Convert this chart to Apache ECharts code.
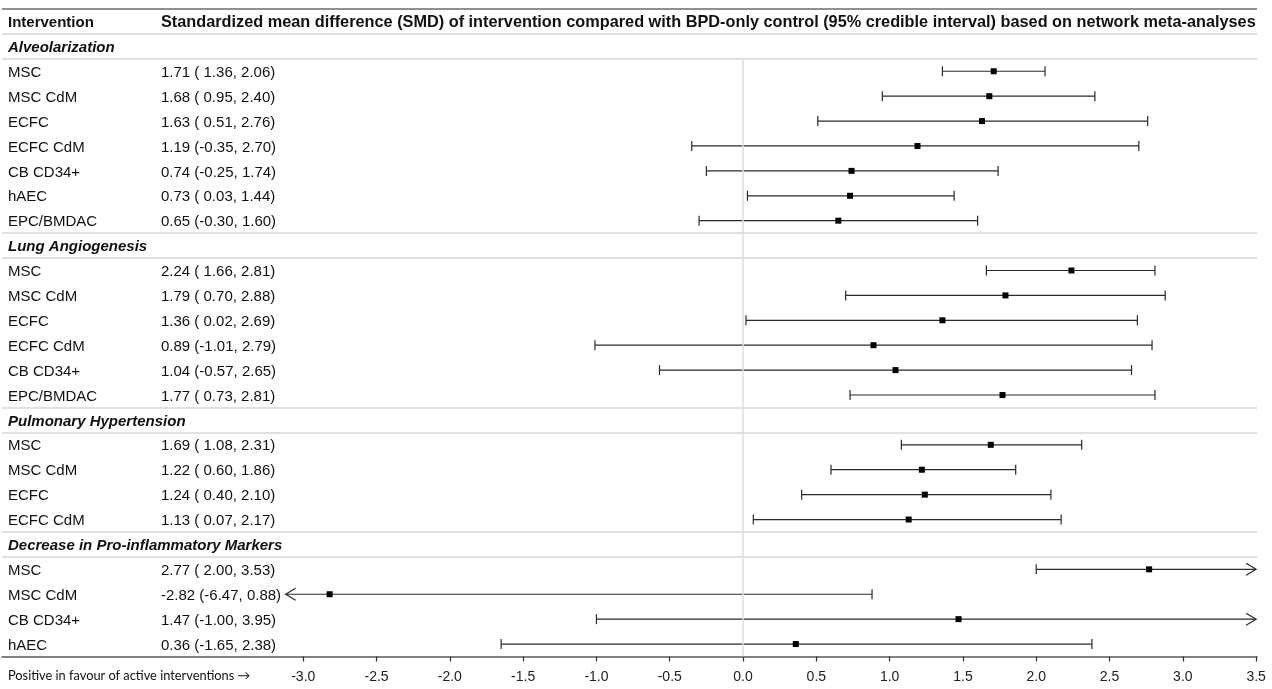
<!DOCTYPE html>
<html><head><meta charset="utf-8">
<script src="https://cdn.jsdelivr.net/npm/echarts@6.0.0/dist/echarts.min.js"></script>
<style>html,body{margin:0;padding:0;background:#fff}#c{width:1272px;height:689px}</style>
</head><body><div id="c"></div>
<script>
// ---------- data ----------
const groupTitles = ['Alveolarization', 'Lung Angiogenesis', 'Pulmonary Hypertension', 'Decrease in Pro-inflammatory Markers'];

const alvNames = ['MSC', 'MSC CdM', 'ECFC', 'ECFC CdM', 'CB CD34+', 'hAEC', 'EPC/BMDAC'];
const alvEst   = [1.71, 1.68, 1.63, 1.19, 0.74, 0.73, 0.65];
const alvLo    = [1.36, 0.95, 0.51, -0.35, -0.25, 0.03, -0.30];
const alvHi    = [2.06, 2.40, 2.76, 2.70, 1.74, 1.44, 1.60];

const lungNames = ['MSC', 'MSC CdM', 'ECFC', 'ECFC CdM', 'CB CD34+', 'EPC/BMDAC'];
const lungEst   = [2.24, 1.79, 1.36, 0.89, 1.04, 1.77];
const lungLo    = [1.66, 0.70, 0.02, -1.01, -0.57, 0.73];
const lungHi    = [2.81, 2.88, 2.69, 2.79, 2.65, 2.81];

const phNames = ['MSC', 'MSC CdM', 'ECFC', 'ECFC CdM'];
const phEst   = [1.69, 1.22, 1.24, 1.13];
const phLo    = [1.08, 0.60, 0.40, 0.07];
const phHi    = [2.31, 1.86, 2.10, 2.17];

const infNames = ['MSC', 'MSC CdM', 'CB CD34+', 'hAEC'];
const infEst   = [2.77, -2.82, 1.47, 0.36];
const infLo    = [2.00, -6.47, -1.00, -1.65];
const infHi    = [3.53, 0.88, 3.95, 2.38];

const xTickLabels = [-3.0, -2.5, -2.0, -1.5, -1.0, -0.5, 0, 0.5, 1.0, 1.5, 2.0, 2.5, 3.0, 3.5];

const headerLeft = 'Intervention';
const headerRight = 'Standardized mean difference (SMD) of intervention compared with BPD-only control (95% credible interval) based on network meta-analyses';
const footerText = 'Positive in favour of active interventions \u2192';

// ---------- build rows ----------
const groups = [
  [alvNames, alvEst, alvLo, alvHi],
  [lungNames, lungEst, lungLo, lungHi],
  [phNames, phEst, phLo, phHi],
  [infNames, infEst, infLo, infHi]
];
const rows = [];
const points = [];
const groupRows = [];
groups.forEach((g, gi) => {
  groupRows.push(rows.length);
  rows.push({type: 'group', name: groupTitles[gi]});
  g[0].forEach((n, i) => {
    const e = g[1][i], l = g[2][i], h = g[3][i];
    const txt = e.toFixed(2) + ' (' + (l >= 0 ? ' ' : '') + l.toFixed(2) + ', ' + h.toFixed(2) + ')';
    points.push([rows.length, e, l, h]);
    rows.push({type: 'item', name: n, text: txt});
  });
});
const lastRow = rows.length - 1;

// display limits of the plotting area
const CLIP_MIN = -3.12, CLIP_MAX = 3.5;
const X_MIN = -5.055, X_MAX = 3.506;

const lightLine = {color: '#d6d6d6', width: 1.5, type: 'solid'};
const hLines = [{yAxis: -1.5, lineStyle: {color: '#6b6b6b', width: 1.5, type: 'solid'}}];
hLines.push({yAxis: -0.5, lineStyle: lightLine});
groupRows.forEach((r, i) => {
  if (i > 0) hLines.push({yAxis: r - 0.5, lineStyle: lightLine});
  hLines.push({yAxis: r + 0.5, lineStyle: lightLine});
});
const zeroLine = [{coord: [0, 0.5], lineStyle: {color: '#dcdcdc', width: 1.5, type: 'solid'}}, {coord: [0, lastRow + 0.5]}];

const FONT = '"Liberation Sans", Arial, sans-serif';
const FS = 15;
const PAD = [3, 0, 0, 0];

const chart = echarts.init(document.getElementById('c'), null, {renderer: 'canvas'});
chart.setOption({
  animation: false,
  backgroundColor: '#fff',
  title: {
    text: footerText, left: 8, top: 669, padding: 0,
    textStyle: {fontFamily: 'Lato, "Open Sans", sans-serif', fontSize: 12.8, fontWeight: 'normal', color: '#111'}
  },
  grid: {left: 2, right: 15, top: 9, bottom: 32.5, containLabel: false},
  xAxis: {
    type: 'value', min: X_MIN, max: X_MAX,
    axisLine: {show: true, onZero: false, lineStyle: {color: '#5a5a5a', width: 1.5}},
    axisTick: {show: true, customValues: xTickLabels, length: 5, lineStyle: {color: '#333', width: 1.2}},
    axisLabel: {show: true, customValues: xTickLabels, margin: 14, fontFamily: FONT, fontSize: 14, color: '#222',
      formatter: v => v.toFixed(1)},
    splitLine: {show: false}
  },
  yAxis: {
    type: 'value', inverse: true, min: -1.5, max: lastRow + 0.5,
    axisLine: {show: false}, axisTick: {show: false}, splitLine: {show: false},
    axisLabel: {
      show: true, inside: true, margin: 6, align: 'left', verticalAlign: 'middle',
      customValues: Array.from({length: rows.length + 1}, (_, i) => i - 1),
      formatter: v => {
        if (v === -1) return '{hl|' + headerLeft + '}{hr|' + headerRight + '}';
        const r = rows[v];
        if (!r) return '';
        if (r.type === 'group') return '{g|' + r.name + '}';
        return '{n|' + r.name + '}{t|' + r.text + '}';
      },
      rich: {
        hl: {fontFamily: FONT, fontSize: FS, fontWeight: 'bold', color: '#111', width: 153, padding: PAD},
        hr: {fontFamily: FONT, fontSize: 16.3, fontWeight: 'bold', color: '#111', padding: PAD},
        g: {fontFamily: FONT, fontSize: FS, fontWeight: 'bold', fontStyle: 'italic', color: '#111', padding: PAD},
        n: {fontFamily: FONT, fontSize: FS, color: '#111', width: 153, padding: PAD},
        t: {fontFamily: FONT, fontSize: FS, color: '#111', padding: PAD}
      }
    }
  },
  series: [
    {
      type: 'line', data: [], silent: true,
      markLine: {symbol: ['none', 'none'], silent: true, label: {show: false}, animation: false,
        data: hLines.concat([zeroLine])}
    },
    {
      type: 'custom', clip: false, silent: true,
      encode: {x: [1, 2, 3], y: 0},
      data: points,
      renderItem: (params, api) => {
        const y = api.value(0), est = api.value(1), lo = api.value(2), hi = api.value(3);
        const loC = Math.max(lo, CLIP_MIN), hiC = Math.min(hi, CLIP_MAX);
        const p0 = api.coord([loC, y]), p1 = api.coord([hiC, y]), pe = api.coord([est, y]);
        const ls = {stroke: '#2a2a2a', lineWidth: 1.2, fill: null};
        const ch = [{type: 'line', shape: {x1: p0[0], y1: p0[1], x2: p1[0], y2: p1[1]}, style: ls}];
        if (lo >= CLIP_MIN) ch.push({type: 'line', shape: {x1: p0[0], y1: p0[1] - 5, x2: p0[0], y2: p0[1] + 5}, style: ls});
        else ch.push({type: 'polyline', shape: {points: [[p0[0] + 10, p0[1] - 6], [p0[0], p0[1]], [p0[0] + 10, p0[1] + 6]]}, style: ls});
        if (hi <= CLIP_MAX) ch.push({type: 'line', shape: {x1: p1[0], y1: p1[1] - 5, x2: p1[0], y2: p1[1] + 5}, style: ls});
        else ch.push({type: 'polyline', shape: {points: [[p1[0] - 10, p1[1] - 6], [p1[0], p1[1]], [p1[0] - 10, p1[1] + 6]]}, style: ls});
        ch.push({type: 'rect', shape: {x: pe[0] - 3, y: pe[1] - 3, width: 6, height: 6}, style: {fill: '#000'}});
        return {type: 'group', children: ch};
      }
    }
  ]
});
</script></body></html>
